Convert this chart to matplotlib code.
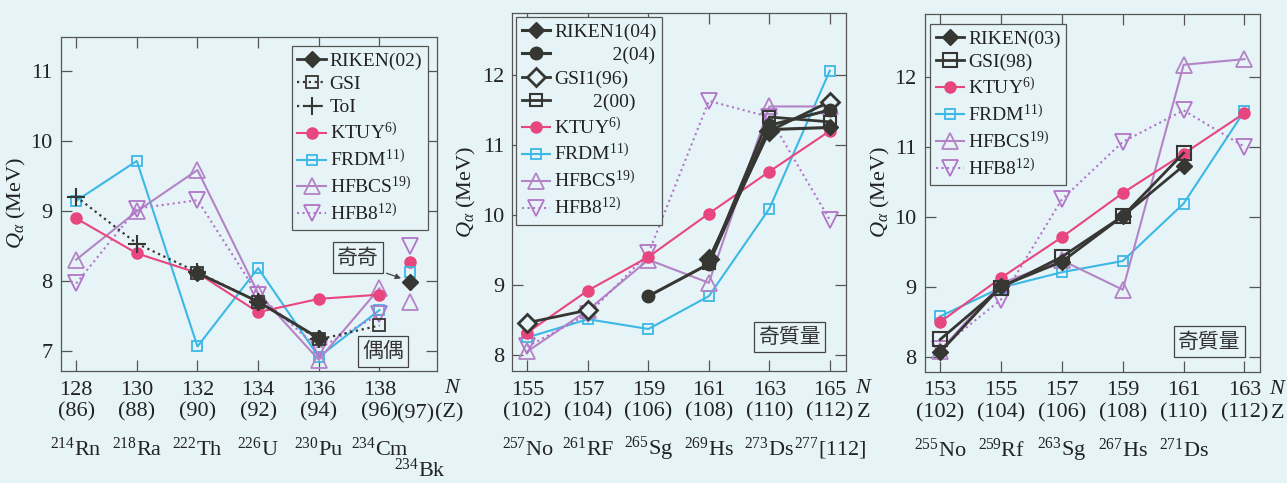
import numpy as np
import matplotlib
matplotlib.use('Agg')
import matplotlib.pyplot as plt
from matplotlib.lines import Line2D

nan = np.nan

plt.rcParams['font.family'] = ['Liberation Serif', 'Noto Sans CJK JP']
plt.rcParams['mathtext.fontset'] = 'custom'
plt.rcParams['mathtext.rm'] = 'Liberation Serif'
plt.rcParams['mathtext.it'] = 'Liberation Serif:italic'

BG = '#e6f4f7'
DARK = '#363632'
PINK = '#e8467f'
CYAN = '#3cb8e6'
PURPLE = '#b483c6'
PURPLE2 = '#b274c8'

# ---- panel 1 : even-even (plus 234Bk odd-odd) ----
n1 = [128, 130, 132, 134, 136, 138]
z1 = [86, 88, 90, 92, 94, 96]
nuc1 = ['214', '218', '222', '226', '230', '234']
sym1 = ['Rn', 'Ra', 'Th', 'U', 'Pu', 'Cm']
riken02 = [nan, nan, 8.11, 7.70, 7.18, nan]
gsi = [nan, nan, 8.11, 7.70, 7.16, 7.36]
toi = [9.20, 8.53, 8.12, 7.70, 7.17, nan]
ktuy1 = [8.89, 8.39, 8.11, 7.55, 7.74, 7.80]
frdm1 = [9.14, 9.71, 7.06, 8.18, 6.91, 7.58]
hfbcs1 = [8.30, 8.99, 9.58, 7.82, 6.87, 7.89]
hfb8_1 = [7.96, 9.03, 9.15, 7.80, 7.03, 7.52]
# 234Bk (odd-odd)
bk_n = 139
bk_z = 97
bk_riken = 7.98
bk_ktuy = 8.27
bk_frdm = 8.13
bk_hfbcs = 7.70
bk_hfb8 = 8.49

# ---- panel 2 : odd mass, 277[112] chain ----
n2 = [155, 157, 159, 161, 163, 165]
z2 = [102, 104, 106, 108, 110, 112]
nuc2 = ['257', '261', '265', '269', '273', '277']
sym2 = ['No', 'RF', 'Sg', 'Hs', 'Ds', '[112]']
riken1_04 = [nan, nan, nan, 9.35, 11.22, 11.25]
riken2_04 = [nan, nan, 8.84, 9.30, 11.28, 11.50]
gsi1_96 = [8.46, 8.64, nan, 9.37, 11.20, 11.62]
gsi2_00 = [nan, nan, nan, 9.32, 11.40, 11.33]
ktuy2 = [8.32, 8.92, 9.40, 10.02, 10.62, 11.20]
frdm2 = [8.25, 8.51, 8.37, 8.84, 10.09, 12.06]
hfbcs2 = [8.05, 8.64, 9.36, 9.03, 11.55, 11.55]
hfb8_2 = [8.12, 8.58, 9.45, 11.63, 11.40, 9.93]

# ---- panel 3 : odd mass, 271Ds chain ----
n3 = [153, 155, 157, 159, 161, 163]
z3 = [102, 104, 106, 108, 110, 112]
nuc3 = ['255', '259', '263', '267', '271']
sym3 = ['No', 'Rf', 'Sg', 'Hs', 'Ds']
riken03 = [8.07, 9.01, 9.36, 10.01, 10.73, nan]
gsi98 = [8.25, 8.99, 9.43, 10.01, 10.91, nan]
ktuy3 = [8.50, 9.13, 9.71, 10.34, 10.90, 11.48]
frdm3 = [8.58, 8.99, 9.21, 9.37, 10.19, 11.51]
hfbcs3 = [8.09, 9.05, 9.38, 8.96, 12.17, 12.25]
hfb8_3 = [8.12, 8.82, 10.25, 11.07, 11.52, 11.00]

TICK_FS = 16
LEG_FS = 14
TXT = '#222222'

fig = plt.figure(figsize=(12.87, 4.83), dpi=100, facecolor=BG)


def style_axes(ax, xticks, zs, xlim, ylim, yticks):
    ax.set_facecolor(BG)
    ax.set_xlim(*xlim)
    ax.set_ylim(*ylim)
    ax.set_xticks(xticks)
    ax.set_xticklabels([f'{n}\n({z})' for n, z in zip(xticks, zs)],
                       fontsize=TICK_FS, linespacing=1.2)
    ax.set_yticks(yticks)
    ax.set_yticklabels([str(v) for v in yticks], fontsize=TICK_FS)
    ax.tick_params(direction='in', length=8, width=0.9, color='#555555',
                   top=True, right=True, labelcolor=TXT)
    ax.tick_params(axis='x', pad=7)
    ax.tick_params(axis='y', pad=6)
    for s in ax.spines.values():
        s.set_color('#555555')
        s.set_linewidth(0.9)
    ax.set_ylabel(r'$Q_\alpha$ (MeV)', fontsize=TICK_FS, color=TXT)


def nuclide_row(ax, ns, masses, syms, dy=-78):
    for n, a, s in zip(ns, masses, syms):
        ax.annotate(f'$^{{{a}}}${s}', xy=(n, 0), xycoords=('data', 'axes fraction'),
                    xytext=(0, dy), textcoords='offset pixels',
                    ha='center', va='center', fontsize=TICK_FS, color=TXT)


def nz_label(ax, xn, xz, zlabel):
    ax.annotate('$N$', xy=(1, 0), xycoords='axes fraction', xytext=(xn, -18),
                textcoords='offset pixels', ha='center', va='center',
                fontsize=TICK_FS, color=TXT)
    ax.annotate(zlabel, xy=(1, 0), xycoords='axes fraction', xytext=(xz, -42),
                textcoords='offset pixels', ha='center', va='center',
                fontsize=TICK_FS, color=TXT)


def note_box(ax, x, y, txt):
    ax.text(x, y, txt, ha='center', va='center', fontsize=15,
            family='Noto Sans CJK JP', color='#333333',
            bbox=dict(boxstyle='square,pad=0.2', fc=BG, ec='#444444', lw=0.9))


def add_legend(ax, handles, labels, loc, anchor):
    leg = ax.legend(handles, labels, loc=loc, bbox_to_anchor=anchor,
                    borderaxespad=0, fontsize=LEG_FS, handlelength=1.45,
                    handletextpad=0.2, labelspacing=0.3, borderpad=0.3,
                    fancybox=False, framealpha=1, facecolor=BG, edgecolor='#555555')
    leg.get_frame().set_linewidth(0.9)
    for t in leg.get_texts():
        t.set_color(TXT)


ktuy_kw = dict(color=PINK, marker='o', ms=8, lw=1.5)
frdm_kw = dict(color=CYAN, marker='s', ms=7, mfc='none', mew=1.3, lw=1.5)
hfbcs_kw = dict(color=PURPLE, marker='^', ms=11, mfc='none', mew=1.3, lw=1.5)
hfb8_kw = dict(color=PURPLE2, marker='v', ms=11, mfc='none', mew=1.3, lw=1.5, ls=':')


def only_marker(kw):
    return {k: v for k, v in kw.items() if k not in ('ls', 'lw')}


# ================= panel 1 =================
ax1 = fig.add_axes([0.0474, 0.2319, 0.2922, 0.6915])
style_axes(ax1, n1, z1, (127.5, 139.9), (6.71, 11.48), [7, 8, 9, 10, 11])
ax1.plot(n1, frdm1, zorder=3, **frdm_kw)
ax1.plot(n1, hfbcs1, zorder=3, **hfbcs_kw)
ax1.plot(n1, hfb8_1, zorder=3, **hfb8_kw)
ax1.plot(n1, ktuy1, zorder=4, **ktuy_kw)
rk02_kw = dict(color=DARK, marker='D', ms=8, lw=2)
gsi_kw = dict(color=DARK, marker='s', ms=8, mfc='none', mew=1.3, lw=1.6, ls=':')
toi_kw = dict(color=DARK, marker='+', ms=13, mew=1.5, lw=1.6, ls=':')
ax1.plot(n1, gsi, zorder=5, **gsi_kw)
ax1.plot(n1, toi, zorder=5, **toi_kw)
ax1.plot(n1, riken02, zorder=6, **rk02_kw)
# 234Bk odd-odd points (no connecting lines)
ax1.plot([bk_n], [bk_hfb8], ls='none', **only_marker(hfb8_kw))
ax1.plot([bk_n], [bk_ktuy], ls='none', **only_marker(ktuy_kw))
ax1.plot([bk_n], [bk_frdm], ls='none', **only_marker(frdm_kw))
ax1.plot([bk_n], [bk_riken], ls='none', **only_marker(rk02_kw))
ax1.plot([bk_n], [bk_hfbcs], ls='none', **only_marker(hfbcs_kw))

h1 = [Line2D([], [], **rk02_kw), Line2D([], [], **gsi_kw), Line2D([], [], **toi_kw),
      Line2D([], [], **ktuy_kw), Line2D([], [], **frdm_kw),
      Line2D([], [], **hfbcs_kw), Line2D([], [], **hfb8_kw)]
l1 = ['RIKEN(02)', 'GSI', 'ToI', 'KTUY$^{6)}$', 'FRDM$^{11)}$', 'HFBCS$^{19)}$', 'HFB8$^{12)}$']
add_legend(ax1, h1, l1, 'upper right', (0.976, 0.973))

note_box(ax1, 137.29, 8.33, '奇奇')
note_box(ax1, 138.11, 6.99, '偶偶')
ax1.annotate('', xy=(138.8, 8.02), xytext=(138.15, 8.12),
             arrowprops=dict(arrowstyle='-|>', color='#444444', lw=0.9, mutation_scale=8))
nuclide_row(ax1, n1, nuc1, sym1)
ax1.annotate(f'({bk_z})', xy=(bk_n, 0), xycoords=('data', 'axes fraction'), xytext=(6, -43),
             textcoords='offset pixels', ha='center', va='center', fontsize=TICK_FS, color=TXT)
ax1.annotate('$^{234}$Bk', xy=(bk_n, 0), xycoords=('data', 'axes fraction'), xytext=(10, -99),
             textcoords='offset pixels', ha='center', va='center', fontsize=TICK_FS, color=TXT)
nz_label(ax1, 16, 12, '(Z)')
ax1.yaxis.set_label_coords(-0.088, 0.503)

# ================= panel 2 =================
ax2 = fig.add_axes([0.3981, 0.2319, 0.2591, 0.7418])
style_axes(ax2, n2, z2, (154.5, 165.53), (7.77, 12.89), [8, 9, 10, 11, 12])
ax2.plot(n2, frdm2, zorder=3, **frdm_kw)
ax2.plot(n2, hfbcs2, zorder=3, **hfbcs_kw)
ax2.plot(n2, hfb8_2, zorder=3, **hfb8_kw)
ax2.plot(n2, ktuy2, zorder=4, **ktuy_kw)
r1_kw = dict(color=DARK, marker='D', ms=8, lw=2.2)
r2_kw = dict(color=DARK, marker='o', ms=9, lw=2.2)
g1_kw = dict(color=DARK, marker='D', ms=9, mfc=BG, mew=2, lw=2)
g2_kw = dict(color=DARK, marker='s', ms=9, mfc='none', mew=1.5, lw=2)
ax2.plot(n2, gsi2_00, zorder=5, **g2_kw)
ax2.plot(n2, riken1_04, zorder=6, **r1_kw)
ax2.plot(n2, riken2_04, zorder=6, **r2_kw)
ax2.plot(n2, gsi1_96, zorder=5, **g1_kw)
h2 = [Line2D([], [], **r1_kw), Line2D([], [], **r2_kw), Line2D([], [], **g1_kw),
      Line2D([], [], **g2_kw), Line2D([], [], **ktuy_kw), Line2D([], [], **frdm_kw),
      Line2D([], [], **hfbcs_kw), Line2D([], [], **hfb8_kw)]
l2 = ['RIKEN1(04)', '            2(04)', 'GSI1(96)', '        2(00)',
      'KTUY$^{6)}$', 'FRDM$^{11)}$', 'HFBCS$^{19)}$', 'HFB8$^{12)}$']
add_legend(ax2, h2, l2, 'upper left', (0.012, 0.988))
note_box(ax2, 163.68, 8.26, '奇質量')
nuclide_row(ax2, n2, nuc2, sym2)
nz_label(ax2, 18, 18, 'Z')
ax2.yaxis.set_label_coords(-0.103, 0.5)

# ================= panel 3 =================
ax3 = fig.add_axes([0.7187, 0.2304, 0.2601, 0.74])
style_axes(ax3, n3, z3, (152.5, 163.5), (7.79, 12.89), [8, 9, 10, 11, 12])
ax3.plot(n3, frdm3, zorder=3, **frdm_kw)
ax3.plot(n3, hfbcs3, zorder=3, **hfbcs_kw)
ax3.plot(n3, hfb8_3, zorder=3, **hfb8_kw)
ax3.plot(n3, ktuy3, zorder=4, **ktuy_kw)
rk_kw = dict(color=DARK, marker='D', ms=8, lw=2)
gs_kw = dict(color=DARK, marker='s', ms=10, mfc='none', mew=1.5, lw=2)
ax3.plot(n3, gsi98, zorder=5, **gs_kw)
ax3.plot(n3, riken03, zorder=6, **rk_kw)
h3 = [Line2D([], [], **rk_kw), Line2D([], [], **gs_kw), Line2D([], [], **ktuy_kw),
      Line2D([], [], **frdm_kw), Line2D([], [], **hfbcs_kw), Line2D([], [], **hfb8_kw)]
l3 = ['RIKEN(03)', 'GSI(98)', 'KTUY$^{6)}$', 'FRDM$^{11)}$', 'HFBCS$^{19)}$', 'HFB8$^{12)}$']
add_legend(ax3, h3, l3, 'upper left', (0.015, 0.972))
note_box(ax3, 161.84, 8.22, '奇質量')
nuclide_row(ax3, n3[:5], nuc3, sym3)
nz_label(ax3, 18, 18, 'Z')
ax3.yaxis.set_label_coords(-0.099, 0.503)

fig.savefig('out.png', dpi=100, facecolor=BG)
